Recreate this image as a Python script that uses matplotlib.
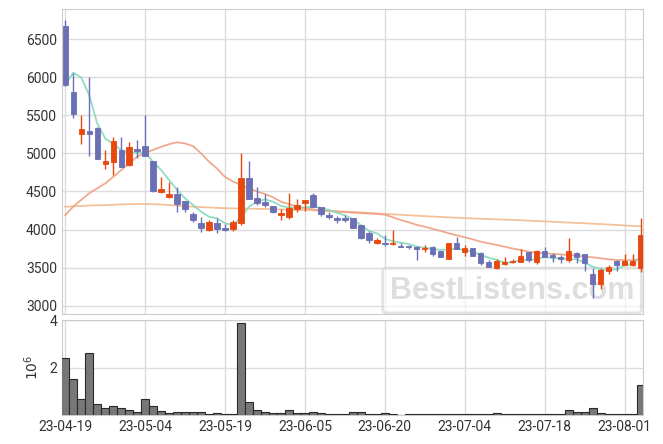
import matplotlib
matplotlib.use("Agg")
import matplotlib.pyplot as plt
from matplotlib.patches import FancyBboxPatch
import numpy as np
import pandas as pd

plt.rcParams['font.family'] = ['Roboto', 'DejaVu Sans']

holidays = ['2023-05-01', '2023-05-05', '2023-05-29', '2023-06-06']
dates = [d for d in pd.bdate_range('2023-04-19', '2023-08-03') if d.strftime('%Y-%m-%d') not in holidays]
date_labels = [d.strftime('%y-%m-%d') for d in dates]

open_ = [6670, 5800, 5260, 5290, 5330, 4865, 4890, 5050, 4850, 5055,
         5095, 4900, 4495, 4430, 4465, 4370, 4200, 4085, 3995, 4080,
         4025, 4005, 4080, 4675, 4410, 4360, 4310, 4195, 4170, 4275,
         4350, 4450, 4295, 4195, 4150, 4150, 4150, 4055, 3955, 3825,
         3825, 3805, 3785, 3785, 3765, 3745, 3765, 3720, 3615, 3825,
         3700, 3755, 3695, 3575, 3490, 3545, 3570, 3580, 3700, 3580,
         3720, 3665, 3645, 3600, 3695, 3680, 3415, 3290, 3460, 3590,
         3535, 3530, 3490]
close = [5900, 5510, 5320, 5250, 4930, 4900, 5160, 4825, 5080, 5035,
         4970, 4510, 4530, 4470, 4340, 4275, 4125, 4020, 4100, 4005,
         4000, 4095, 4675, 4405, 4350, 4325, 4225, 4220, 4280, 4320,
         4385, 4300, 4210, 4170, 4130, 4130, 4020, 3895, 3865, 3860,
         3805, 3830, 3770, 3765, 3750, 3760, 3685, 3645, 3825, 3745,
         3755, 3655, 3560, 3515, 3585, 3575, 3590, 3655, 3600, 3715,
         3645, 3645, 3620, 3720, 3645, 3565, 3290, 3475, 3510, 3540,
         3590, 3590, 3930]
high = [6750, 6050, 5500, 6000, 5340, 5045, 5210, 5210, 5150, 5170,
        5500, 4905, 4685, 4620, 4560, 4375, 4235, 4170, 4120, 4155,
        4070, 4125, 5000, 4895, 4560, 4460, 4315, 4265, 4475, 4400,
        4390, 4485, 4300, 4230, 4175, 4190, 4155, 4060, 3980, 3895,
        3935, 4000, 3830, 3800, 3785, 3800, 3790, 3725, 3830, 3900,
        3795, 3760, 3700, 3600, 3615, 3645, 3620, 3740, 3705, 3730,
        3765, 3690, 3665, 3885, 3700, 3685, 3500, 3500, 3530, 3595,
        3680, 3685, 4150]
low = [5880, 5460, 5120, 4970, 4930, 4800, 4710, 4815, 4830, 4935,
       4960, 4490, 4485, 4420, 4225, 4230, 4095, 3965, 3980, 3950,
       3975, 3980, 4065, 4400, 4320, 4295, 4220, 4120, 4145, 4235,
       4250, 4295, 4180, 4145, 4085, 4095, 4015, 3875, 3830, 3815,
       3790, 3800, 3765, 3750, 3600, 3700, 3655, 3640, 3610, 3740,
       3650, 3655, 3540, 3510, 3485, 3530, 3555, 3575, 3570, 3550,
       3640, 3570, 3555, 3570, 3555, 3450, 3100, 3215, 3420, 3460,
       3530, 3525, 3440]
volume = [2430000, 1540000, 665000, 2610000, 450000, 280000, 370000, 280000, 200000, 110000,
          665000, 370000, 150000, 70000, 110000, 110000, 110000, 110000, 30000, 70000,
          30000, 30000, 3890000, 530000, 200000, 110000, 70000, 70000, 200000, 70000,
          70000, 110000, 70000, 40000, 40000, 40000, 110000, 110000, 40000, 40000,
          70000, 40000, 0, 30000, 30000, 30000, 30000, 30000, 30000, 30000,
          30000, 30000, 30000, 30000, 70000, 30000, 30000, 30000, 30000, 30000,
          30000, 30000, 30000, 200000, 110000, 110000, 280000, 70000, 30000, 30000,
          30000, 30000, 1260000]
ma5 = [5896, 6058, 5997, 5765, 5394, 5197, 5122, 5044, 5000, 5008,
       5008, 4890, 4781, 4650, 4519, 4410, 4322, 4234, 4169, 4147,
       4082, 4058, 4160, 4300, 4366, 4397, 4366, 4309, 4291, 4288,
       4291, 4300, 4287, 4256, 4221, 4186, 4134, 4060, 3985, 3950,
       3880, 3845, 3828, 3810, 3775, 3762, 3745, 3732, 3741, 3745,
       3732, 3710, 3667, 3631, 3601, 3565, 3570, 3601, 3601, 3610,
       3644, 3623, 3623, 3610, 3610, 3565, 3513, 3479, 3470, 3479,
       3531, 3553, 3636]
ma20 = [4190, 4300, 4390, 4475, 4540, 4605, 4690, 4780, 4870, 4955,
        5005, 5045, 5085, 5120, 5145, 5130, 5095, 5000, 4890, 4800,
        4690, 4630, 4585, 4540, 4500, 4465, 4425, 4365, 4335, 4300,
        4280, 4265, 4250, 4245, 4235, 4228, 4222, 4216, 4210, 4205,
        4195, 4160, 4125, 4095, 4060, 4038, 4007, 3981, 3951, 3924,
        3898, 3872, 3841, 3819, 3797, 3775, 3750, 3732, 3710, 3697,
        3688, 3680, 3675, 3666, 3657, 3645, 3636, 3623, 3610, 3601,
        3597, 3597, 3614]
ma60 = [4300, 4305, 4310, 4315, 4318, 4320, 4325, 4330, 4333, 4335,
        4335, 4332, 4328, 4322, 4315, 4305, 4300, 4295, 4290, 4285,
        4280, 4278, 4276, 4274, 4272, 4270, 4267, 4264, 4261, 4258,
        4255, 4252, 4249, 4245, 4240, 4235, 4230, 4225, 4218, 4212,
        4205, 4200, 4194, 4188, 4182, 4176, 4170, 4165, 4160, 4155,
        4150, 4146, 4142, 4138, 4134, 4130, 4126, 4122, 4117, 4112,
        4107, 4102, 4097, 4092, 4087, 4082, 4077, 4072, 4066, 4060,
        4054, 4048, 4044]

UP = '#e8470e'
DOWN = '#6b6fb3'
GRID = '#dcdcdc'
SPINE = '#cccccc'
TXT = '#333333'

o = np.array(open_, float); c = np.array(close, float)
h = np.array(high, float); l = np.array(low, float)
x = np.arange(len(dates))
cols = [UP if cc > oo else DOWN for oo, cc in zip(o, c)]

fig = plt.figure(figsize=(6.63, 4.44), dpi=100)
ax = fig.add_axes([62/663, 130/444, 581/663, 305/444])
axv = fig.add_axes([62/663, 29/444, 581/663, 95/444], sharex=ax)

for a in (ax, axv):
    a.set_axisbelow(True)
    a.grid(True, color=GRID, lw=1.0)
    for s in a.spines.values():
        s.set_color(SPINE)
    a.tick_params(length=0, labelsize=10, colors=TXT)

# watermark (behind marks)
box = FancyBboxPatch((384/663, (444-312)/444), 256/663, 43/444,
                     boxstyle='round,pad=0.002,rounding_size=0.006',
                     transform=fig.transFigure, facecolor='white', alpha=0.6,
                     edgecolor='#d2d2d2', linewidth=2.0, zorder=1.2, clip_on=False)
ax.add_patch(box)
ax.text(512/663, (444-291)/444, 'BestListens.com', ha='center', va='center',
        fontsize=22, fontweight='bold', color='#dedede', transform=fig.transFigure,
        family=['Liberation Sans', 'DejaVu Sans'], zorder=1.3, clip_on=False)

ax.plot(x, ma60, color='#f2bb8f', lw=1.3, alpha=0.9, zorder=2)
ax.plot(x, ma20, color='#eea083', lw=1.3, alpha=0.9, zorder=2)
ax.plot(x, ma5, color='#86d9bd', lw=1.3, alpha=0.9, zorder=2)

ax.vlines(x, l, h, colors=cols, lw=1.0, zorder=3)
ax.bar(x, np.abs(c - o), bottom=np.minimum(o, c), width=0.66, color=cols,
       edgecolor=cols, linewidth=0.6, zorder=4)

ax.set_ylim(2892, 6894)
ax.set_yticks([3000, 3500, 4000, 4500, 5000, 5500, 6000, 6500])
ax.set_xlim(-0.4, 72.3)
ticks = list(range(0, len(dates), 10))
ax.set_xticks(ticks)
plt.setp(ax.get_xticklabels(), visible=False)

vol = np.array(volume, float) / 1e6
axv.bar(x, vol, width=1.0, color='#787878', edgecolor='#2a2a2a', linewidth=0.8, zorder=3)
axv.set_ylim(0, 4.02)
axv.set_yticks([2, 4])
axv.set_yticklabels(['2', '4'])
axv.set_ylabel(r'$10^6$', fontsize=10, color=TXT, labelpad=6)
axv.set_xticks(ticks)
axv.set_xticklabels([date_labels[i] for i in ticks])

fig.savefig('out.png', dpi=100)
